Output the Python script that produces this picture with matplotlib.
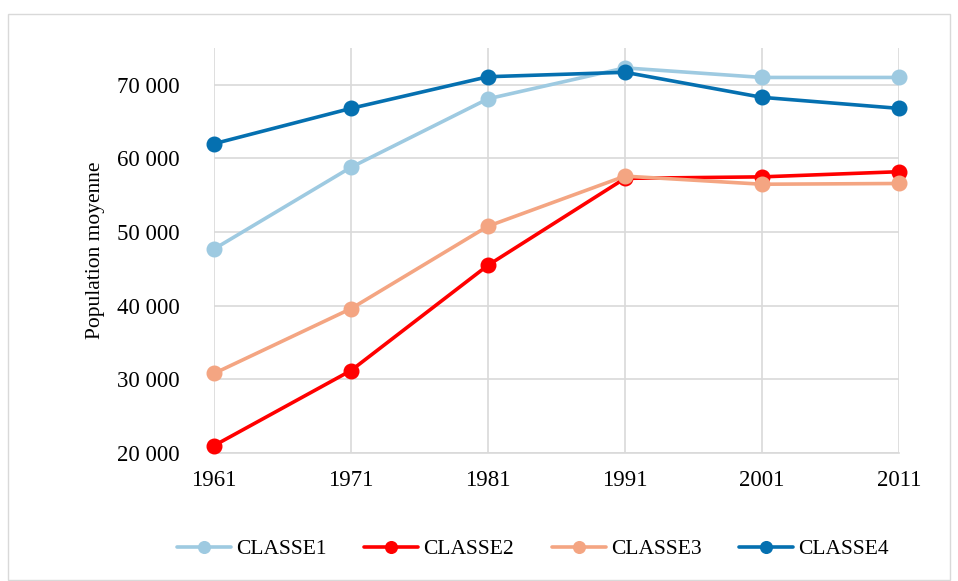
import matplotlib
matplotlib.use("Agg")
import matplotlib.pyplot as plt
from matplotlib.patches import Rectangle
from matplotlib.ticker import FuncFormatter

years = ["1961", "1971", "1981", "1991", "2001", "2011"]
classe1 = [47700, 58800, 68100, 72300, 71000, 71000]
classe2 = [21000, 31200, 45500, 57300, 57500, 58200]
classe3 = [30800, 39600, 50800, 57600, 56500, 56600]
classe4 = [62000, 66800, 71100, 71700, 68300, 66800]
series_names = ["CLASSE1", "CLASSE2", "CLASSE3", "CLASSE4"]
colors = ["#9ecae1", "#ff0000", "#f4a582", "#0570b0"]

plt.rcParams['font.family'] = ['Liberation Serif', 'DejaVu Serif']

fig = plt.figure(figsize=(9.58, 5.81), dpi=100)
ax = fig.add_axes([214/958, 1-453/581, (899-214)/958, (453-48)/581])

x = list(range(len(years)))
for name, vals, c in zip(series_names, [classe1, classe2, classe3, classe4], colors):
    ax.plot(x, vals, color=c, lw=2.6, marker='o', markersize=10.5, label=name,
            solid_capstyle='round', clip_on=False, zorder=3)

ax.set_xlim(0, 5)
ax.set_ylim(20000, 75000)
ax.set_yticks([20000, 30000, 40000, 50000, 60000, 70000])
ax.yaxis.set_major_formatter(FuncFormatter(lambda v, p: f"{int(v):,}".replace(",", " ")))
ax.set_xticks(x)
ax.set_xticklabels(years)
ax.tick_params(axis='both', length=0, labelsize=16.5, colors='black')
ax.tick_params(axis='x', pad=12)
ax.tick_params(axis='y', pad=25)
ax.grid(True, color='#d9d9d9', lw=1.2, zorder=0)
for s in ['top', 'right', 'left']:
    ax.spines[s].set_visible(False)
ax.spines['bottom'].set_color('#d9d9d9')
ax.spines['bottom'].set_linewidth(1.2)
ax.set_ylabel("Population moyenne", fontsize=15.5, labelpad=8)

leg = fig.legend(loc='center', bbox_to_anchor=(533/958, 1-549/581), ncol=4, frameon=False,
                 fontsize=15.5, handlelength=2.5, columnspacing=1.75, handletextpad=0.25,
                 markerscale=0.8)

fig.patches.append(Rectangle((8/958, 1-580/581), 942/958, 566/581, transform=fig.transFigure,
                             fill=False, edgecolor='#d9d9d9', lw=1))

fig.savefig("out.png", dpi=100, facecolor='white')
